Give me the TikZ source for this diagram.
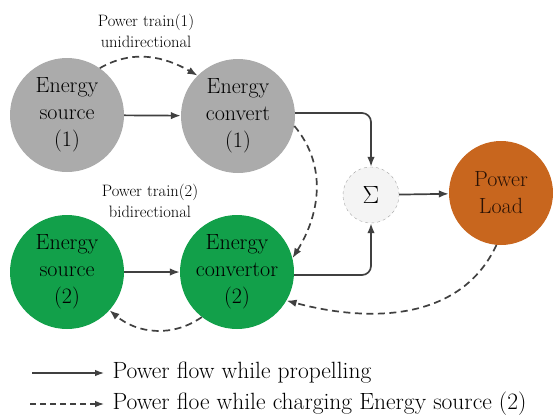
\documentclass[tikz,border=0pt]{standalone}
\usetikzlibrary{arrows.meta}
\definecolor{arr}{HTML}{404040}
\definecolor{greyfill}{HTML}{ABABAB}
\definecolor{greenfill}{HTML}{12A04A}
\definecolor{orangefill}{HTML}{C8661E}
\definecolor{sumfill}{HTML}{F4F4F4}
\definecolor{loadtext}{HTML}{2A1205}
\tikzset{
  big/.style={circle, minimum size=114pt, inner sep=0pt, align=center,
    font=\fontsize{22}{27}\selectfont, text=black},
  sol/.style={draw=arr, line width=1.7pt, -{Latex[length=10pt,width=7.5pt]}},
  dsh/.style={sol, dash pattern=on 7pt off 4.5pt},
  lbl/.style={align=center, font=\fontsize{16.5}{21}\selectfont, text=black},
  leg/.style={anchor=west, font=\fontsize{23.5}{24}\selectfont, text=black}
}
\begin{document}
\begin{tikzpicture}[x=1pt,y=-1pt]
\useasboundingbox (0,0) rectangle (553,416);
\node[big, fill=greyfill] (s1) at (67,115) {Energy\\source\\(1)};
\node[big, fill=greyfill] (c1) at (238,116) {Energy\\convert\\(1)};
\node[big, fill=greenfill] (s2) at (67,272) {Energy\\source\\(2)};
\node[big, fill=greenfill] (c2) at (237,272) {Energy\\convertor\\(2)};
\node[circle, minimum size=56pt, inner sep=0pt, fill=sumfill, draw=black!35, dashed, line width=0.4pt,
  font=\fontsize{36}{36}\selectfont] (sum) at (371,195) {$\Sigma$};
\node[circle, minimum size=104pt, inner sep=0pt, fill=orangefill, align=center,
  font=\fontsize{22}{27}\selectfont, text=loadtext] (load) at (501,193) {Power\\Load};
\node[lbl] (l1) at (146,31) {Power train(1)\\unidirectional};
\node[lbl] (l2) at (150,201) {Power train(2)\\bidirectional};
% solid
\draw[sol] (s1) -- (c1);
\draw[sol] (s2) -- (c2);
\draw[sol, rounded corners=9pt] (c1.3) -| (sum.north);
\draw[sol, rounded corners=9pt] (c2.-3) -| (sum.south);
\draw[sol] (sum) -- (load);
% dashed
\draw[dsh] (s1.55) to[out=30,in=150] (c1.135);
\draw[dsh] (c1.-10) to[out=-50,in=58] (c2.14);
\draw[dsh] (load.-95) to[out=-115,in=-15] (c2.-30);
\draw[dsh] (c2.-128) to[out=-145,in=-40] (s2.-42);
% legend
\coordinate (a1) at (32,373);
\coordinate (b1) at (104,373);
\coordinate (a2) at (30,404);
\coordinate (b2) at (104,404);
\draw[draw=arr, line width=1.2pt, -{Latex[length=9pt,width=6.5pt]}] (a1) -- (b1);
\draw[draw=arr, line width=1.2pt, dash pattern=on 6pt off 4pt, -{Latex[length=9pt,width=6.5pt]}] (a2) -- (b2);
\node[leg] (t1) at (109,373) {Power flow while propelling};
\node[leg] (t2) at (109,404) {Power floe while charging Energy source (2)};
\end{tikzpicture}
\end{document}
